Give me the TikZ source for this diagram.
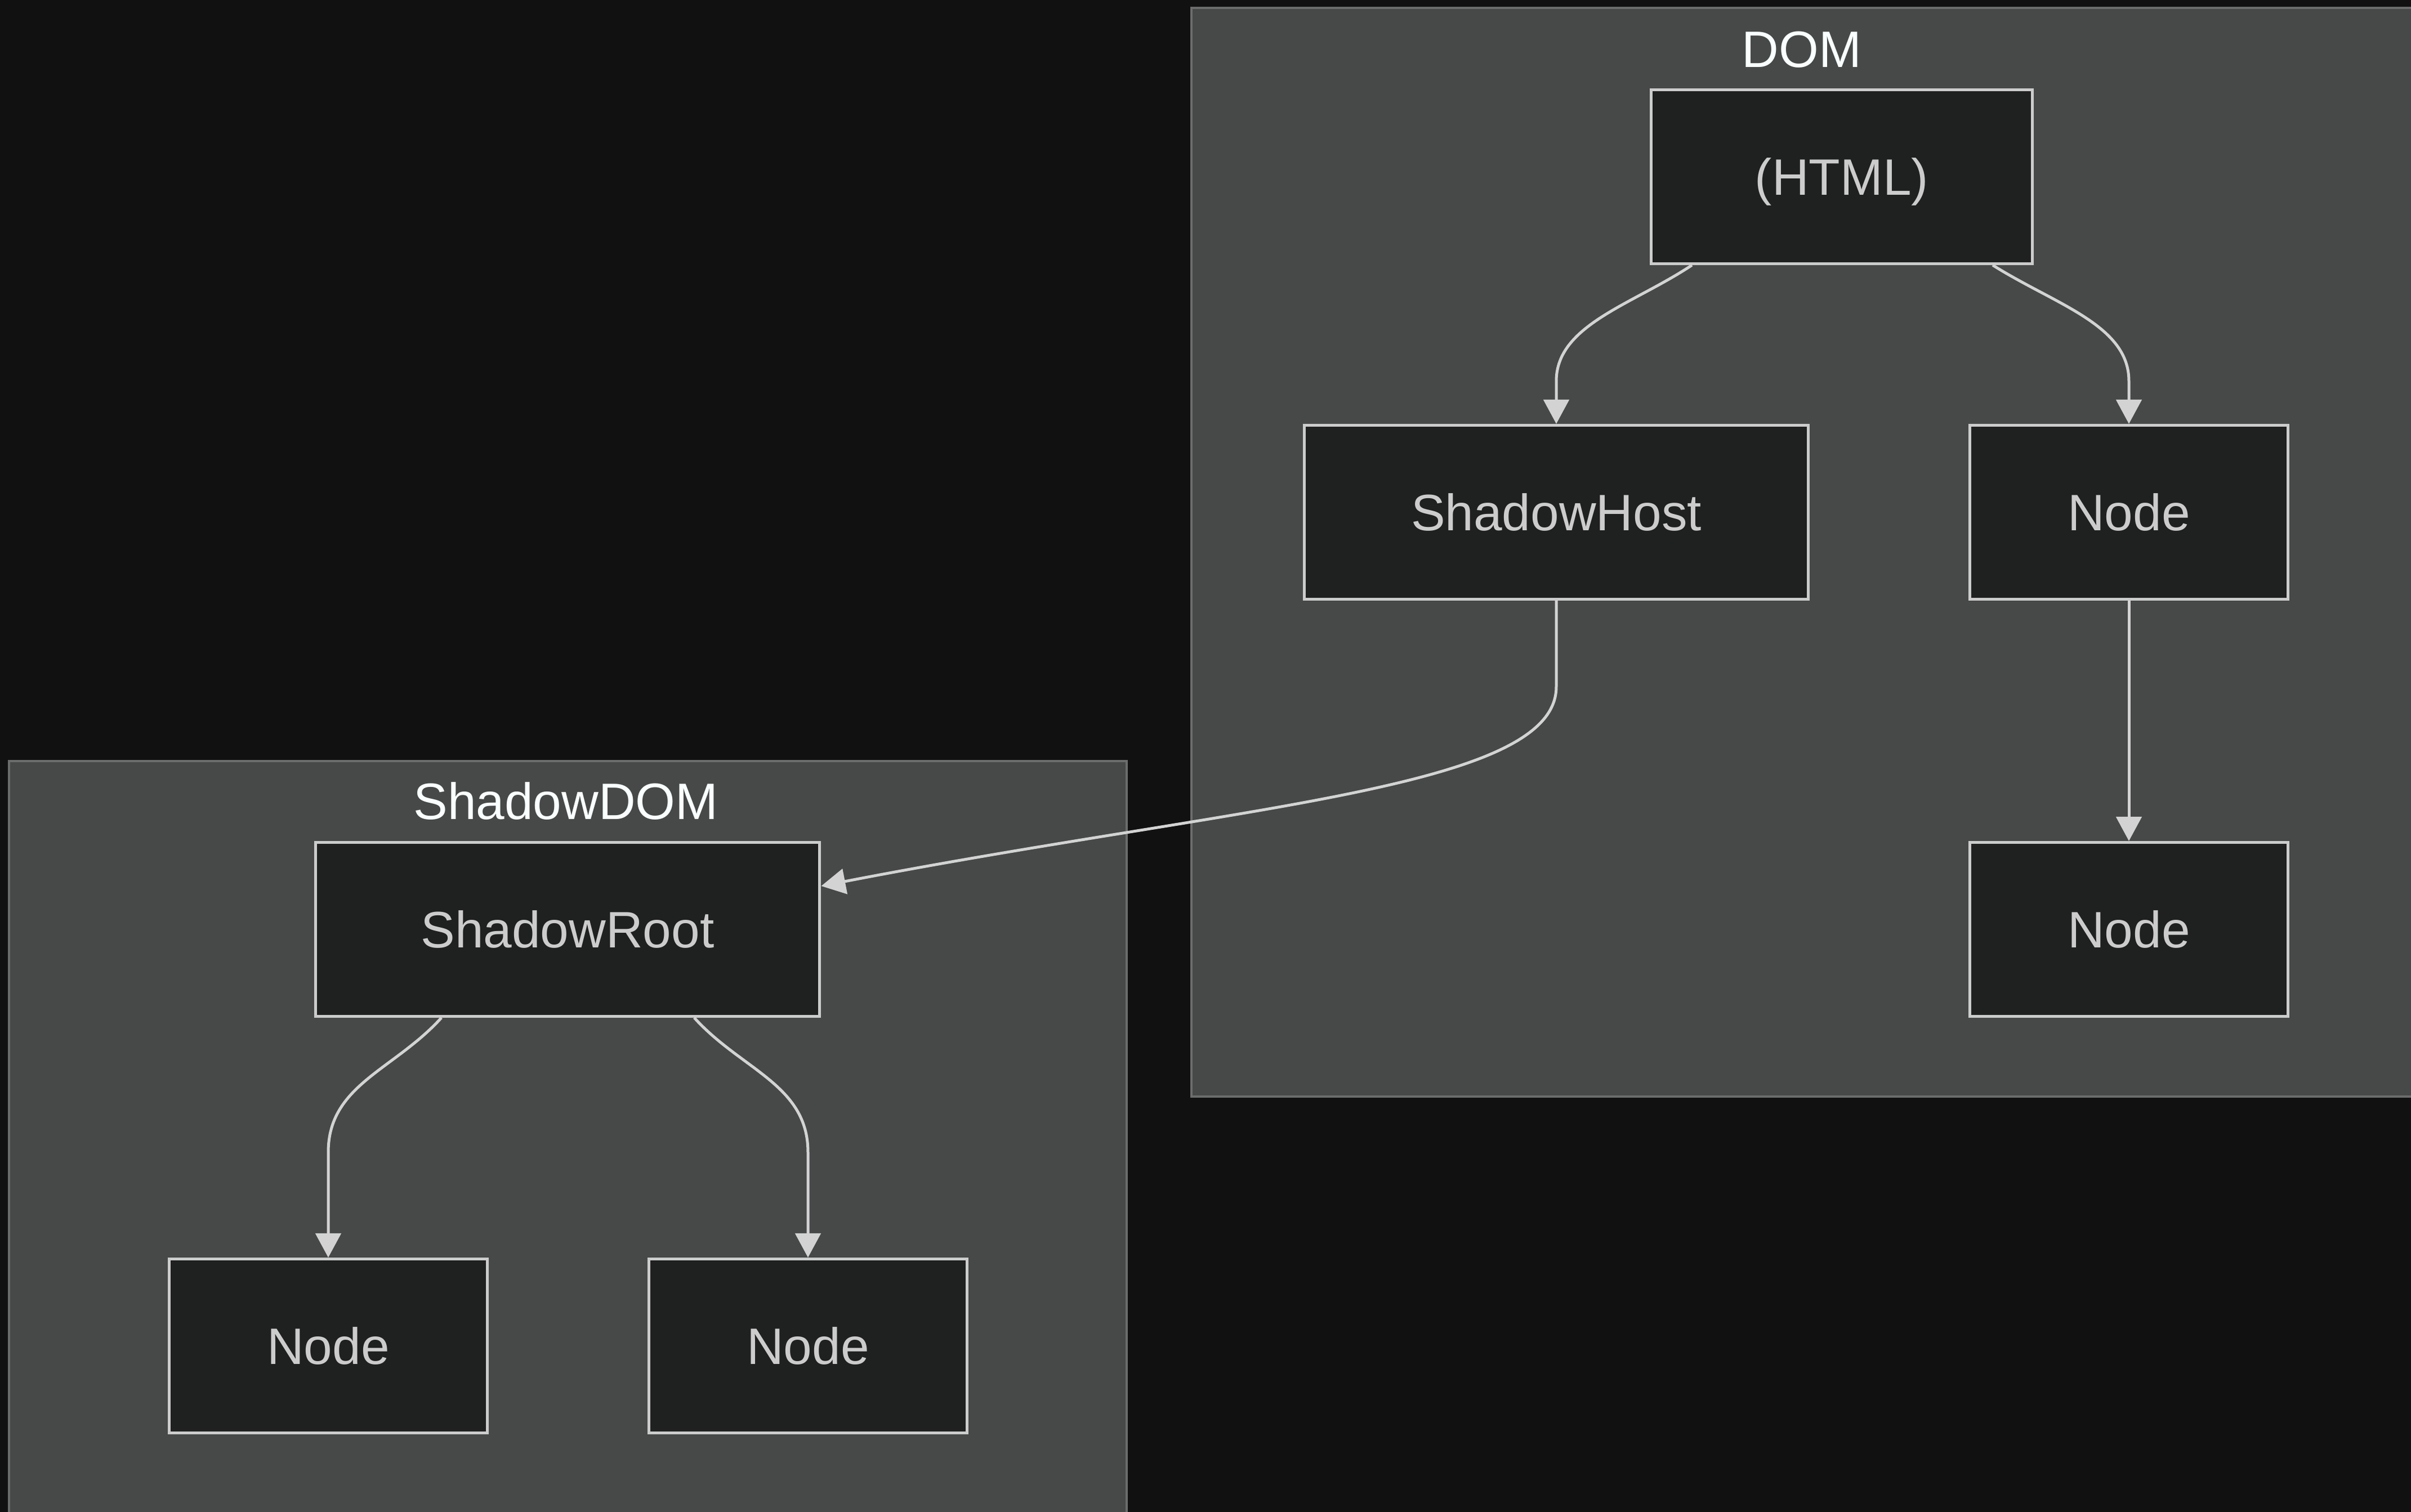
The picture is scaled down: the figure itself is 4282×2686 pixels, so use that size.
\documentclass[tikz,border=0pt]{standalone}
\usepackage{fontspec}
\setmainfont{Liberation Sans}
\usepackage{tikz}
\usetikzlibrary{arrows.meta,calc}
\definecolor{bgcol}{HTML}{111111}
\definecolor{clustfill}{HTML}{474949}
\definecolor{clustline}{HTML}{6B6C6C}
\definecolor{boxfill}{HTML}{1F2020}
\definecolor{boxline}{HTML}{CCCCCC}
\definecolor{titlecol}{HTML}{F9FFFE}
\definecolor{edgecol}{HTML}{D3D3D3}
\newcommand{\labelfont}{\fontsize{9.1pt}{11pt}\selectfont}
\tikzset{
  box/.style={draw=boxline, fill=boxfill, line width=0.5pt, text=boxline,
    minimum height=30.9pt, inner sep=0pt, text height=6.5pt, text depth=0pt,
    font=\labelfont},
  cluster/.style={draw=clustline, fill=clustfill, line width=0.45pt},
  title/.style={text=titlecol, inner sep=0pt, text height=6.5pt, text depth=0pt,
    font=\labelfont},
  edge/.style={draw=edgecol, line width=0.5pt,
    -{Triangle[length=4.3pt,width=4.5pt]}}
}

\begin{document}
\begin{tikzpicture}[x=0.1pt,y=-0.1pt]
      \useasboundingbox (0,0) rectangle (4282,2686);
      \fill[bgcol] (0,0) rectangle (4282,2686);

      % the two subgraphs
      \draw[cluster] (2116,14) rectangle (4284,1948);
      \draw[cluster] (16,1352) rectangle (2001,2688);
      \node[title] (domT) at (3200,87) {DOM};
      \node[title] (shadowT) at (1005,1423) {ShadowDOM};

      % DOM tree
      \node[box, minimum width=67.7pt] (html) at (3271,314) {(HTML)};
      \node[box, minimum width=89.6pt] (host) at (2764,910) {ShadowHost};
      \node[box, minimum width=56.6pt] (nodeA) at (3781,910) {Node};
      \node[box, minimum width=56.6pt] (nodeB) at (3781,1651) {Node};

      % shadow tree
      \node[box, minimum width=89.6pt] (root) at (1008,1651) {ShadowRoot};
      \node[box, minimum width=56.6pt] (nodeC) at (583,2391) {Node};
      \node[box, minimum width=56.6pt] (nodeD) at (1435,2391) {Node};

      \draw[edge] ($(html.south)+(-266,0)$) .. controls +(-105,70) and +(0,-100)
        .. ($(host.north)+(0,-76)$) -- (host.north);
      \draw[edge] ($(html.south)+(268,0)$) .. controls +(111,70) and +(0,-100)
        .. ($(nodeA.north)+(0,-76)$) -- (nodeA.north);
      \draw[edge] (nodeA) -- (nodeB);
      \draw[edge] (host.south) -- ++(0,153) .. controls +(0,182) and +(743,-144)
        .. ([yshift=7.7pt]root.east);% into the shadow root
      \draw[edge] ($(root.south)+(-224,0)$) .. controls +(-84,93) and +(0,-120)
        .. ($(nodeC.north)+(0,-187)$) -- (nodeC.north);
      \draw[edge] ($(root.south)+(225,0)$) .. controls +(84,93) and +(0,-120)
        .. ($(nodeD.north)+(0,-187)$) -- (nodeD.north);
\end{tikzpicture}
\end{document}
